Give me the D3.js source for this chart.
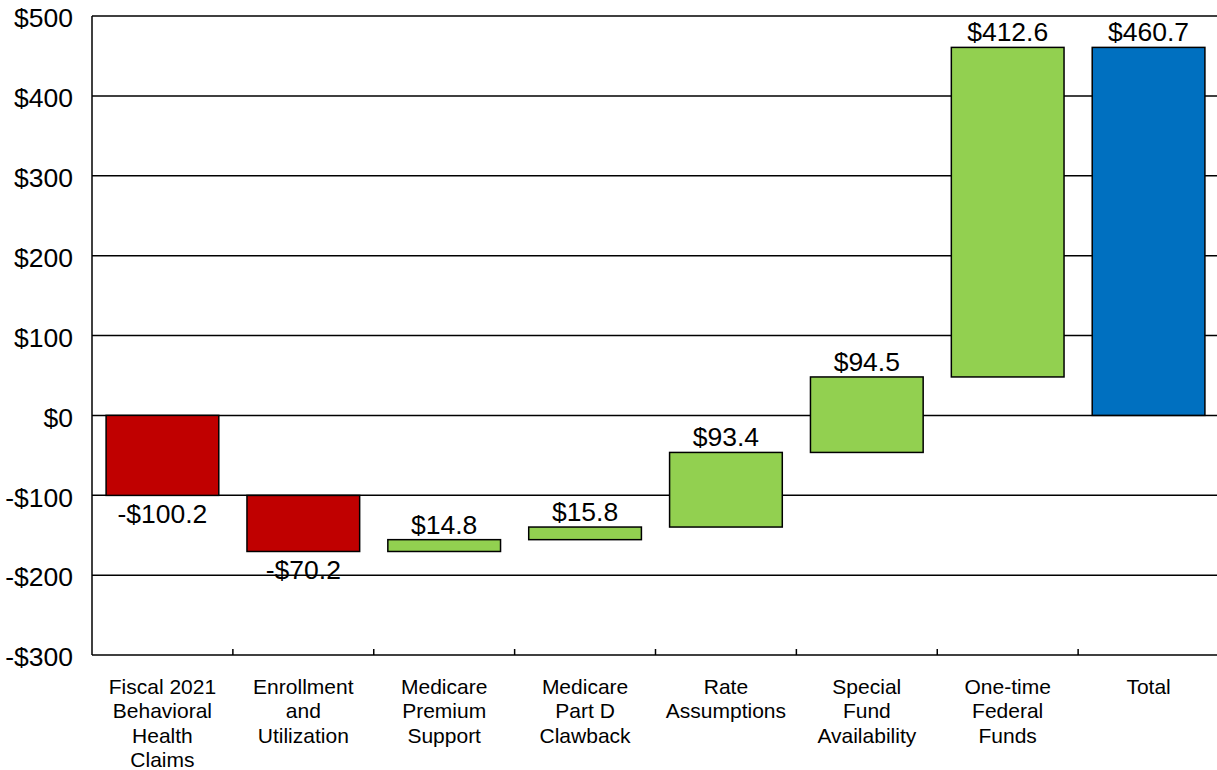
<!DOCTYPE html>
<html lang="en">
<head>
    <meta charset="UTF-8">
    <title>Waterfall</title>
    <script src="https://d3js.org/d3.v7.min.js"></script>
    <style>
        body { margin: 0; background: #fff; font-family: Arial, "Liberation Sans", sans-serif; }
        svg { display: block; }
    </style>
</head>
<body>
    <svg width="1217" height="770"></svg>

    <script>
        const categories = [
            ["Fiscal 2021", "Behavioral", "Health", "Claims"],
            ["Enrollment", "and", "Utilization"],
            ["Medicare", "Premium", "Support"],
            ["Medicare", "Part D", "Clawback"],
            ["Rate", "Assumptions"],
            ["Special", "Fund", "Availability"],
            ["One-time", "Federal", "Funds"],
            ["Total"]
        ];
        const changes = [-100.2, -70.2, 14.8, 15.8, 93.4, 94.5, 412.6];
        const totalValue = 460.7;
        const yTicks = [-300, -200, -100, 0, 100, 200, 300, 400, 500];

        // build waterfall steps
        let running = 0;
        const steps = changes.map((v, i) => {
            const start = running;
            running += v;
            return { i, start, end: running, value: v, type: v < 0 ? "neg" : "pos" };
        });
        steps.push({ i: changes.length, start: 0, end: totalValue, value: totalValue, type: "total" });

        const colors = { neg: "#C00000", pos: "#92D050", total: "#0070C0" };
        const fmt = v => (v < 0 ? "-$" : "$") + Math.abs(v).toFixed(1);

        const svg = d3.select("svg");
        const plotLeft = 92, plotRight = 1219, plotTop = 16, plotBottom = 655;

        const x = d3.scaleBand()
            .domain(d3.range(categories.length))
            .range([plotLeft, plotRight])
            .paddingInner(0.2)
            .paddingOuter(0.1);

        const y = d3.scaleLinear().domain([-300, 500]).range([plotBottom, plotTop]);

        // gridlines
        svg.append("g")
            .selectAll("line")
            .data(yTicks.filter(d => d !== -300))
            .enter().append("line")
            .attr("x1", plotLeft).attr("x2", 1217)
            .attr("y1", d => y(d)).attr("y2", d => y(d))
            .attr("stroke", "#000").attr("stroke-width", 1.5);

        // y labels
        svg.append("g")
            .selectAll("text")
            .data(yTicks)
            .enter().append("text")
            .attr("x", 73)
            .attr("y", d => y(d) + 2)
            .attr("dy", "0.35em")
            .attr("text-anchor", "end")
            .style("font-size", "26.5px")
            .text(d => (d < 0 ? "-$" : "$") + Math.abs(d));

        // bars
        svg.append("g")
            .selectAll("rect")
            .data(steps)
            .enter().append("rect")
            .attr("x", d => x(d.i))
            .attr("width", x.bandwidth())
            .attr("y", d => y(Math.max(d.start, d.end)))
            .attr("height", d => Math.abs(y(d.start) - y(d.end)))
            .attr("fill", d => colors[d.type])
            .attr("stroke", "#000")
            .attr("stroke-width", 1.5);

        // value labels
        svg.append("g")
            .selectAll("text")
            .data(steps)
            .enter().append("text")
            .attr("x", d => x(d.i) + x.bandwidth() / 2)
            .attr("y", d => d.value < 0 ? y(d.end) + 28 : y(Math.max(d.start, d.end)) - 6)
            .attr("text-anchor", "middle")
            .style("font-size", "26.5px")
            .text(d => fmt(d.value));

        // axis lines
        svg.append("line")
            .attr("x1", plotLeft).attr("x2", plotLeft)
            .attr("y1", plotTop).attr("y2", plotBottom)
            .attr("stroke", "#000").attr("stroke-width", 1.5);
        svg.append("line")
            .attr("x1", plotLeft).attr("x2", 1217)
            .attr("y1", plotBottom).attr("y2", plotBottom)
            .attr("stroke", "#000").attr("stroke-width", 1.5);

        // category ticks between bands, pointing up
        const half = x.step() * 0.1;
        svg.append("g")
            .selectAll("line")
            .data(d3.range(1, categories.length))
            .enter().append("line")
            .attr("x1", i => x(i) - half)
            .attr("x2", i => x(i) - half)
            .attr("y1", plotBottom).attr("y2", plotBottom - 6)
            .attr("stroke", "#000").attr("stroke-width", 1.5);

        // category labels
        const cat = svg.append("g")
            .selectAll("text")
            .data(categories)
            .enter().append("text")
            .attr("x", (d, i) => x(i) + x.bandwidth() / 2)
            .attr("y", 693.5)
            .attr("text-anchor", "middle")
            .style("font-size", "21px");
        cat.selectAll("tspan")
            .data(d => d)
            .enter().append("tspan")
            .attr("x", function () { return d3.select(this.parentNode).attr("x"); })
            .attr("dy", (d, j) => j === 0 ? 0 : 24.5)
            .text(d => d);
    </script>
</body>
</html>
